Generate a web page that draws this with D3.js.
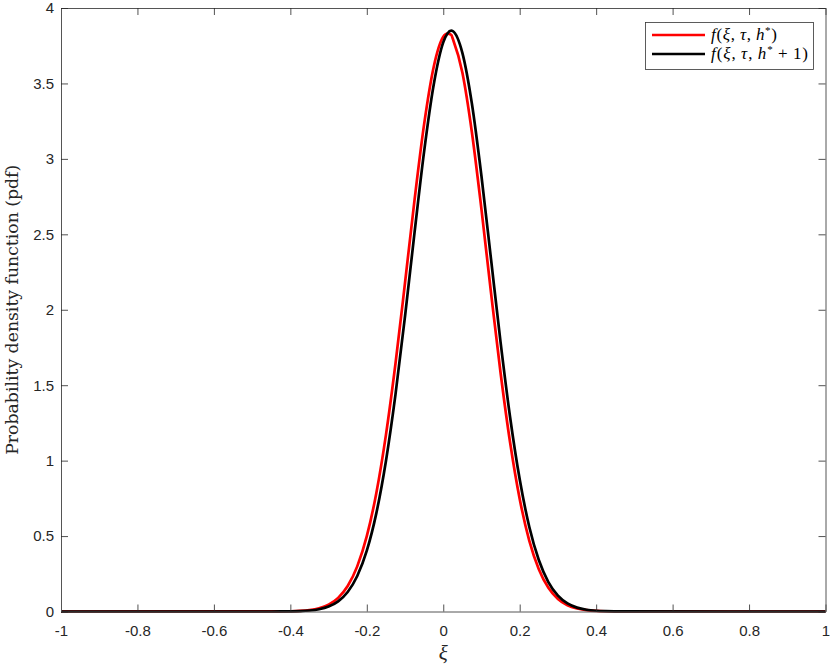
<!DOCTYPE html>
<html><head><meta charset="utf-8">
<script src="https://cdn.jsdelivr.net/npm/d3@7"></script>
<style>body{margin:0;background:#fff}svg{display:block}</style>
</head><body>
<svg id="c" width="831" height="668"></svg>
<script>
// x positions (xi)
const xiValues = [-1, -0.45, -0.425, -0.4, -0.375, -0.35, -0.325, -0.3, -0.275, -0.25, -0.225, -0.2, -0.175, -0.15, -0.125, -0.1, -0.075, -0.05, -0.025, 0, 0.011, 0.021, 0.025, 0.05, 0.075, 0.1, 0.125, 0.15, 0.175, 0.2, 0.225, 0.25, 0.275, 0.3, 0.325, 0.35, 0.375, 0.4, 0.425, 0.45, 0.475, 1];
// f(xi, tau, h*)
const redValues = [0, 0.0002, 0.0006, 0.0017, 0.0042, 0.0098, 0.0218, 0.0457, 0.0905, 0.169, 0.299, 0.499, 0.786, 1.169, 1.642, 2.179, 2.730, 3.230, 3.609, 3.809, 3.830, 3.822, 3.796, 3.572, 3.175, 2.665, 2.112, 1.581, 1.118, 0.746, 0.470, 0.280, 0.157, 0.0836, 0.0419, 0.0198, 0.0089, 0.0038, 0.0015, 0.0005, 0.0002, 0];
// f(xi, tau, h*+1)
const blackValues = [0, 0.0001, 0.0004, 0.0011, 0.0027, 0.0066, 0.0152, 0.0329, 0.0671, 0.129, 0.235, 0.403, 0.652, 0.996, 1.437, 1.957, 2.514, 3.050, 3.491, 3.772, 3.831, 3.850, 3.847, 3.703, 3.365, 2.885, 2.335, 1.784, 1.286, 0.876, 0.562, 0.341, 0.195, 0.105, 0.0537, 0.0258, 0.0117, 0.0050, 0.0020, 0.0008, 0.0003, 0];
const xTicks = [-1, -0.8, -0.6, -0.4, -0.2, 0, 0.2, 0.4, 0.6, 0.8, 1];
const yTicks = [0, 0.5, 1, 1.5, 2, 2.5, 3, 3.5, 4];
const seriesNames = ["h*", "h*+1"];

const L = 61, R = 825.5, T = 8, B = 611.5;
const svg = d3.select("#c");
const x = d3.scaleLinear().domain([-1, 1]).range([L, R]);
const y = d3.scaleLinear().domain([0, 4]).range([B, T]);
const axisColor = "#262626";
const tickFont = "'Liberation Sans', Arial, Helvetica, sans-serif";
const serif = "'DejaVu Serif','Liberation Serif',serif";

// curves
const line = d3.line().x(d => x(d[0])).y(d => y(d[1])).curve(d3.curveMonotoneX);
const red = xiValues.map((v, i) => [v, redValues[i]]);
const blk = xiValues.map((v, i) => [v, blackValues[i]]);
svg.append("path").attr("d", line(red)).attr("fill", "none").attr("stroke", "#ff0000").attr("stroke-width", 2.7);
svg.append("path").attr("d", line(blk)).attr("fill", "none").attr("stroke", "#000000").attr("stroke-width", 2.7);

// axes with inside ticks
const fmt = d => String(d);
const gB = svg.append("g").attr("transform", `translate(0,${B})`)
  .call(d3.axisBottom(x).tickValues(xTicks).tickSizeInner(-7).tickSizeOuter(0).tickFormat(fmt));
const gT = svg.append("g").attr("transform", `translate(0,${T})`)
  .call(d3.axisTop(x).tickValues(xTicks).tickSizeInner(-7).tickSizeOuter(0).tickFormat(""));
const gL = svg.append("g").attr("transform", `translate(${L},0)`)
  .call(d3.axisLeft(y).tickValues(yTicks).tickSizeInner(-7).tickSizeOuter(0).tickFormat(fmt));
const gR = svg.append("g").attr("transform", `translate(${R},0)`)
  .call(d3.axisRight(y).tickValues(yTicks).tickSizeInner(-7).tickSizeOuter(0).tickFormat(""));
[gB, gT, gL, gR].forEach(g => {
  g.selectAll(".domain").attr("stroke", "#555").attr("stroke-width", 1);
  g.selectAll(".tick line").attr("stroke", axisColor).attr("stroke-width", 0.8);
  g.selectAll(".tick text").attr("fill", axisColor).style("font-family", tickFont).style("font-size", "15px");
});
gB.selectAll(".tick text").attr("dy", "0.71em").attr("y", 14);
gL.selectAll(".tick text").attr("x", -7);

// axis labels
svg.append("text").attr("transform", `translate(18,${(T + B) / 2}) rotate(-90)`)
  .attr("text-anchor", "middle").style("font-family", serif)
  .attr("textLength", 290).attr("lengthAdjust", "spacingAndGlyphs")
  .style("font-size", "17px").attr("fill", axisColor).text("Probability density function (pdf)");
svg.append("text").attr("x", (L + R) / 2).attr("y", 660).attr("text-anchor", "middle")
  .style("font-family", "'Liberation Serif',serif").style("font-style", "italic").style("font-size", "21px")
  .attr("fill", axisColor).text("ξ");

// legend
const lg = svg.append("g");
lg.append("rect").attr("x", 645.5).attr("y", 22.5).attr("width", 168).attr("height", 47)
  .attr("fill", "#fff").attr("stroke", "#333").attr("stroke-width", 0.8);
const entries = [{c: "#ff0000", n: seriesNames[0]}, {c: "#000000", n: seriesNames[1]}];
entries.forEach((e, i) => {
  const yy = 35 + i * 19;
  lg.append("line").attr("x1", 652).attr("x2", 705).attr("y1", yy).attr("y2", yy).attr("stroke", e.c).attr("stroke-width", 2.7);
  const t = lg.append("text").attr("x", 711).attr("y", yy + 5).style("font-family", "'Liberation Serif',serif").style("font-size", "17px").attr("fill", "#000");
  t.append("tspan").style("font-style", "italic").text("f");
  t.append("tspan").text("(");
  t.append("tspan").style("font-style", "italic").text("ξ");
  t.append("tspan").text(",\u2009");
  t.append("tspan").style("font-style", "italic").text("τ");
  t.append("tspan").text(",\u2009");
  t.append("tspan").style("font-style", "italic").text("h");
  t.append("tspan").attr("dy", -6).style("font-size", "11px").text("*");
  if (i === 1) {
    t.append("tspan").attr("dy", 6).text("\u2009+\u20091)");
  } else {
    t.append("tspan").attr("dy", 6).text(")");
  }
  t.attr("textLength", i === 1 ? 97 : 66).attr("lengthAdjust", "spacing");
});
</script>
</body></html>
